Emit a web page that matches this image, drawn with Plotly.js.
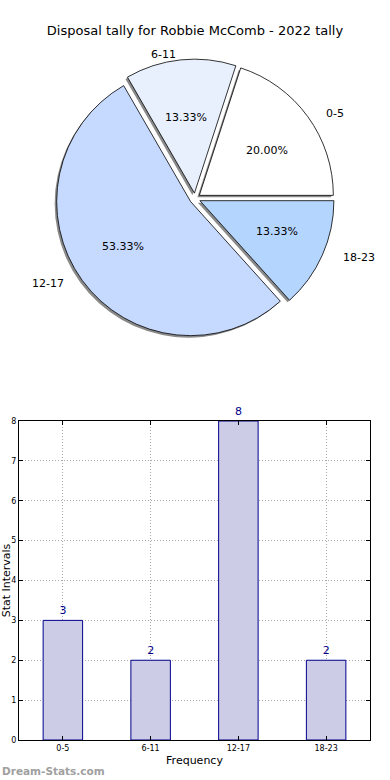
<!DOCTYPE html>
<html>
<head>
<meta charset="utf-8">
<script src="https://cdn.plot.ly/plotly-3.0.1.min.js"></script>
<style>html,body{margin:0;padding:0;background:#fff;}#chart{width:390px;height:780px;}</style>
</head>
<body>
<div id="chart"></div>
<script>
const categories = ['0-5', '6-11', '12-17', '18-23'];
const counts = [3, 2, 8, 2];
const pieColors = ['#ffffff', '#e8f0fe', '#c6d9fe', '#b4d5fe'];
const chartTitle = 'Disposal tally for Robbie McComb - 2022 tally';
const xTitle = 'Frequency';
const yTitle = 'Stat Intervals';
const watermark = 'Dream-Stats.com';

const W = 390, H = 780;
const FONT = 'DejaVu Sans, Verdana, sans-serif';
// pie geometry in px
const pcx = 195, pcy = 198.5, pr = 134, pull = 0.04;
// label geometry (reference pie was slightly elliptical)
const lrx = 141, lry = 127.5, lexp = 0.035;

function px2x(p) { return p / W; }
function py2y(p) { return 1 - p / H; }

const half = pr * (1 + pull);
const pieDomain = {
  x: [px2x(pcx - half), px2x(pcx + half)],
  y: [py2y(pcy + half), py2y(pcy - half)]
};
const sh = 2; // shadow offset px
const shadowDomain = {
  x: [px2x(pcx - half - sh), px2x(pcx + half - sh)],
  y: [py2y(pcy + half + sh), py2y(pcy - half + sh)]
};

const total = counts.reduce((a, b) => a + b, 0);
// first slice should start at 3 o'clock going counterclockwise
const rot = 90 - counts[0] / total * 360;

const annotations = [];
let acc = 0;
counts.forEach((v, i) => {
  const mid = (acc + v / 2) / total * 2 * Math.PI;
  acc += v;
  const c = Math.cos(mid), s = Math.sin(mid);
  const lx = pcx + lrx * (1.1 + lexp) * c, ly = pcy - lry * (1.1 + lexp) * s;
  annotations.push({
    text: categories[i], xref: 'paper', yref: 'paper',
    x: px2x(lx), y: py2y(ly), xanchor: c > 0 ? 'left' : 'right', yanchor: 'middle',
    showarrow: false, font: {family: FONT, size: 11, color: '#000'}
  });
  const tx = pcx + lrx * (0.6 + lexp) * c, ty = pcy - lry * (0.6 + lexp) * s;
  annotations.push({
    text: (v / total * 100).toFixed(2) + '%', xref: 'paper', yref: 'paper',
    x: px2x(tx), y: py2y(ty), xanchor: 'center', yanchor: 'middle',
    showarrow: false, font: {family: FONT, size: 11, color: '#000'}
  });
});
annotations.push({
  text: '<b>' + watermark + '</b>', xref: 'paper', yref: 'paper',
  x: 0, y: py2y(771), xanchor: 'left', yanchor: 'middle', showarrow: false,
  font: {family: FONT, size: 10.5, color: '#a0a0a0'}
});

const shadow = {
  type: 'pie', labels: categories, values: counts, sort: false,
  direction: 'counterclockwise', rotation: rot, pull: pull,
  marker: {colors: categories.map(() => '#8a8a8a'), line: {width: 0}},
  textinfo: 'none', hoverinfo: 'skip', showlegend: false, domain: shadowDomain
};
const pieTrace = {
  type: 'pie', labels: categories, values: counts, sort: false,
  direction: 'counterclockwise', rotation: rot, pull: pull,
  marker: {colors: pieColors, line: {color: '#000', width: 0.8}},
  textinfo: 'none', showlegend: false, domain: pieDomain
};
const bars = {
  type: 'bar', x: [0, 1, 2, 3], y: counts, width: 0.45,
  marker: {color: 'rgba(204,204,230,1)', line: {color: '#00008b', width: 1}},
  text: counts.map(String), textposition: 'outside', cliponaxis: false,
  textfont: {family: FONT, size: 11, color: '#00008b'},
  xaxis: 'x', yaxis: 'y', showlegend: false
};

const layout = {
  width: W, height: H,
  margin: {l: 0, r: 0, t: 0, b: 0},
  paper_bgcolor: '#fff', plot_bgcolor: '#fff',
  font: {family: FONT, color: '#000'},
  title: {text: chartTitle, x: 0.5, xanchor: 'center', y: py2y(30), yanchor: 'middle',
          font: {family: FONT, size: 13, color: '#000'}},
  xaxis: {
    domain: [px2x(19), px2x(370)], anchor: 'y', range: [-0.5, 3.5],
    tickmode: 'array', tickvals: [0, 1, 2, 3], ticktext: categories,
    ticks: 'inside', ticklen: 4, tickcolor: '#000',
    showline: true, linecolor: '#000', linewidth: 1, mirror: 'ticks',
    showgrid: true, gridcolor: '#a8a8a8', griddash: '1px,2px', gridwidth: 1,
    zeroline: false, layer: 'above traces', fixedrange: true,
    tickfont: {family: FONT, size: 8, color: '#000'},
    title: {text: xTitle, font: {family: FONT, size: 11, color: '#000'}, standoff: 4}
  },
  yaxis: {
    domain: [py2y(740), py2y(421)], anchor: 'x', range: [0, 8],
    tickmode: 'linear', tick0: 0, dtick: 1,
    ticks: 'inside', ticklen: 4, tickcolor: '#000',
    showline: true, linecolor: '#000', linewidth: 1, mirror: 'ticks',
    showgrid: true, gridcolor: '#a8a8a8', griddash: '1px,2px', gridwidth: 1,
    zeroline: false, layer: 'above traces', fixedrange: true,
    tickfont: {family: FONT, size: 8, color: '#000'},
    title: {text: yTitle, font: {family: FONT, size: 11, color: '#000'}, standoff: 0}
  },
  annotations: annotations,
  showlegend: false
};

Plotly.newPlot('chart', [shadow, pieTrace, bars], layout, {displayModeBar: false, staticPlot: true});
</script>
</body>
</html>
